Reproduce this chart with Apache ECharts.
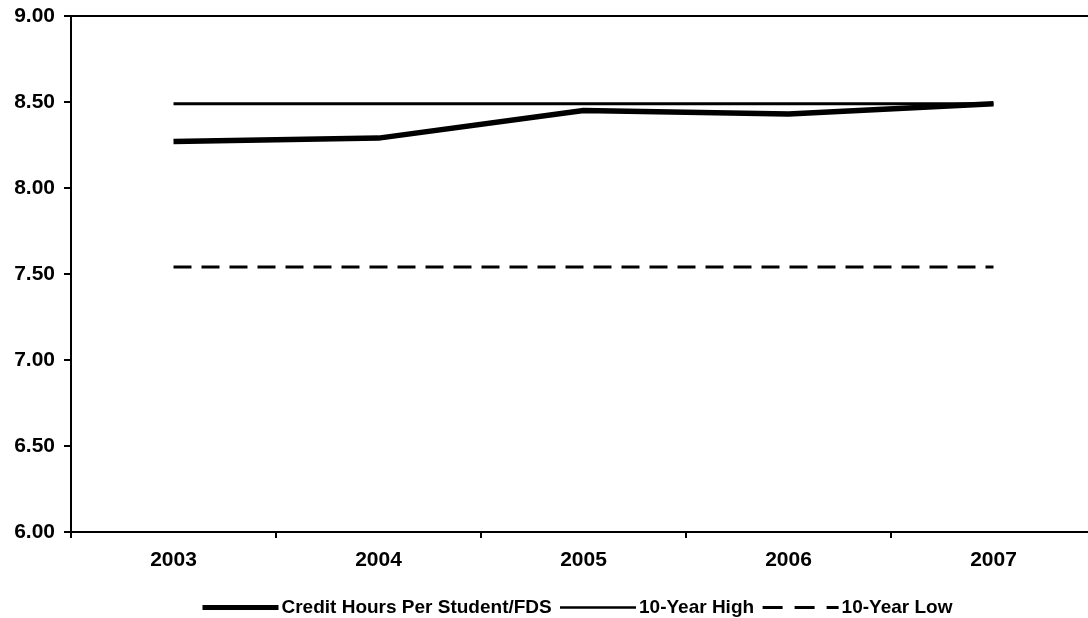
<!DOCTYPE html>
<html>
<head>
<meta charset="utf-8">
<script src="https://cdn.jsdelivr.net/npm/echarts@6/dist/echarts.min.js"></script>
<style>
html,body{margin:0;padding:0;background:#fff;}
#chart{width:1088px;height:618px;}
</style>
</head>
<body>
<div id="chart"></div>
<script>
const categories = ['2003', '2004', '2005', '2006', '2007'];
const creditHours = [8.27, 8.29, 8.45, 8.43, 8.49];
const tenYearHigh = [8.49, 8.49, 8.49, 8.49, 8.49];
const tenYearLow = [7.54, 7.54, 7.54, 7.54, 7.54];
const seriesNames = ['Credit Hours Per Student/FDS', '10-Year High', '10-Year Low'];

const FONT = 'Liberation Sans, Arial, sans-serif';
const chart = echarts.init(document.getElementById('chart'), null, {renderer: 'canvas'});
chart.setOption({
  animation: false,
  backgroundColor: '#ffffff',
  grid: {
    left: 71, width: 1025, top: 16, bottom: 86,
    outerBoundsMode: 'none',
    containLabel: false,
    show: true, borderColor: '#000', borderWidth: 2, backgroundColor: 'transparent'
  },
  xAxis: {
    type: 'category',
    data: categories,
    boundaryGap: true,
    axisLine: {lineStyle: {color: '#000', width: 2}},
    axisTick: {show: true, length: 6, lineStyle: {color: '#000', width: 2}},
    axisLabel: {color: '#000', fontFamily: FONT, fontWeight: 'bold', fontSize: 21, margin: 18},
    splitLine: {show: false}
  },
  yAxis: {
    type: 'value',
    min: 6, max: 9, interval: 0.5,
    axisLine: {show: true, lineStyle: {color: '#000', width: 2}},
    axisTick: {show: true, length: 7, lineStyle: {color: '#000', width: 2}},
    axisLabel: {color: '#000', fontFamily: FONT, fontWeight: 'bold', fontSize: 21, margin: 16,
      formatter: v => v.toFixed(2)},
    splitLine: {show: false}
  },
  legend: {
    data: [
      {name: seriesNames[0], lineStyle: {width: 5}},
      {name: seriesNames[1], lineStyle: {width: 2.5}},
      {name: seriesNames[2], lineStyle: {width: 3, type: [20, 12]}}
    ],
    left: 195, top: 593,
    itemWidth: 76, itemHeight: 20, itemGap: 7,
    itemStyle: {opacity: 0},
    textStyle: {color: '#000', fontFamily: FONT, fontWeight: 'bold', fontSize: 19, padding: [0, 0, 0, -2]}
  },
  series: [
    {
      name: seriesNames[0], type: 'line', data: creditHours,
      symbol: 'none', color: '#000',
      lineStyle: {color: '#000', width: 5.5}
    },
    {
      name: seriesNames[1], type: 'line', data: tenYearHigh,
      symbol: 'none', color: '#000',
      lineStyle: {color: '#000', width: 3}
    },
    {
      name: seriesNames[2], type: 'line', data: tenYearLow,
      symbol: 'none', color: '#000',
      lineStyle: {color: '#000', width: 3, type: [18, 10]}
    }
  ]
});
</script>
</body>
</html>
